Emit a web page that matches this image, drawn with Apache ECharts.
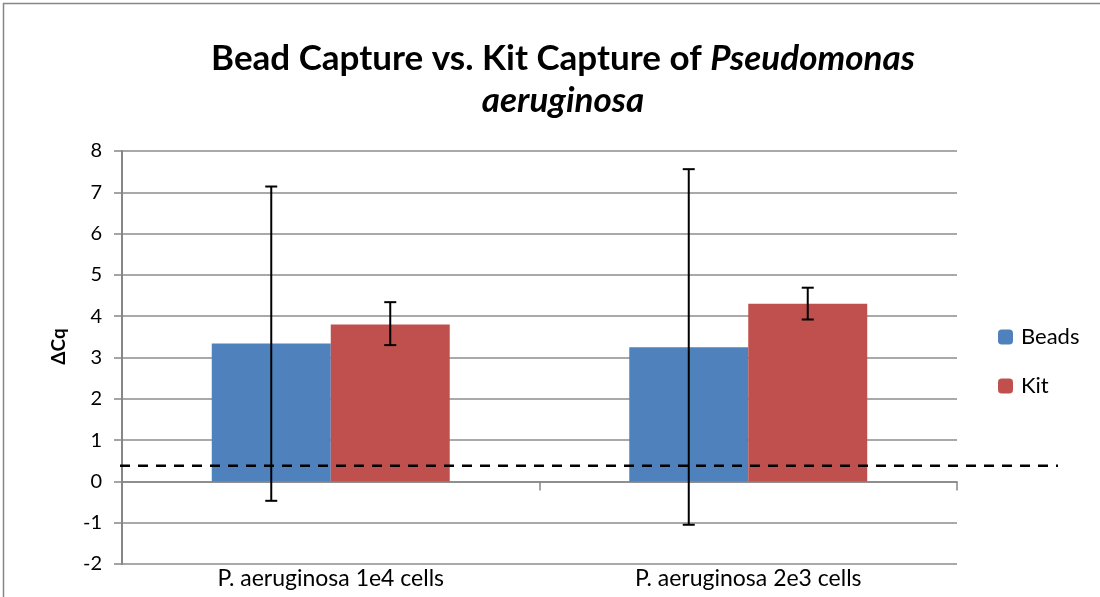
<!doctype html>
<html>
<head>
    <meta http-equiv="Content-Type" content="text/html; charset=utf-8">
    <title>Bead Capture vs. Kit Capture</title>
    <script src="https://cdn.jsdelivr.net/npm/echarts@6/dist/echarts.min.js"></script>
    <style>
        html, body { margin: 0; padding: 0; background: #fff; }
        #chart { width: 1100px; height: 597px; }
    </style>
</head>
<body>
<div id="chart"></div>
<script type="text/javascript">
    var categories = ['P. aeruginosa 1e4 cells', 'P. aeruginosa 2e3 cells'];
    var beads = [3.34, 3.25];
    var kit = [3.80, 4.30];
    // error bar ends (low, high)
    var beadsLow = [-0.47, -1.05];
    var beadsHigh = [7.14, 7.56];
    var kitLow = [3.30, 3.92];
    var kitHigh = [4.34, 4.69];
    var threshold = 0.38;
    var yTicks = { min: -2, max: 8, interval: 1 };

    var FONT = 'Lato';
    var BAR_FRAC = 0.285;

    function errorSeries(name, low, high, side) {
        var data = [];
        for (var i = 0; i < categories.length; i++) {
            data.push([i, low[i], high[i]]);
        }
        return {
            name: name + ' err',
            type: 'custom',
            data: data,
            z: 5,
            silent: true,
            encode: { x: 0, y: [1, 2] },
            renderItem: function (params, api) {
                var band = api.size([1, 0])[0];
                var lo = api.coord([api.value(0), api.value(1)]);
                var hi = api.coord([api.value(0), api.value(2)]);
                var x = lo[0] + side * band * BAR_FRAC / 2;
                var cap = 6;
                var st = { stroke: '#000', lineWidth: 2 };
                return {
                    type: 'group',
                    children: [
                        { type: 'line', shape: { x1: x, y1: lo[1], x2: x, y2: hi[1] }, style: st },
                        { type: 'line', shape: { x1: x - cap, y1: lo[1], x2: x + cap, y2: lo[1] }, style: st },
                        { type: 'line', shape: { x1: x - cap, y1: hi[1], x2: x + cap, y2: hi[1] }, style: st }
                    ]
                };
            }
        };
    }

    var myChart = echarts.init(document.getElementById('chart'));
    var option = {
        animation: false,
        textStyle: { fontFamily: FONT },
        title: {
            text: '{b|Bead Capture vs. Kit Capture of }{i|Pseudomonas}\n{i|aeruginosa}',
            left: 558,
            top: 33,
            textAlign: 'center',
            textStyle: {
                rich: {
                    b: { fontFamily: FONT, fontWeight: 'bold', fontSize: 35, color: '#000', lineHeight: 42 },
                    i: { fontFamily: FONT, fontWeight: 'bold', fontStyle: 'italic', fontSize: 35, color: '#000', lineHeight: 42 }
                }
            }
        },
        legend: {
            orient: 'vertical',
            left: 998,
            top: 326,
            padding: 0,
            itemWidth: 15,
            itemHeight: 15,
            itemGap: 27,
            data: ['Beads', 'Kit'],
            textStyle: { fontFamily: FONT, fontSize: 22, lineHeight: 22, color: '#000', padding: [0, 0, 0, 3] }
        },
        grid: { left: 122, right: 143, top: 151, bottom: 33, containLabel: false },
        xAxis: [
            {
                type: 'category',
                data: categories,
                position: 'bottom',
                axisLine: { onZero: true, lineStyle: { color: '#868686', width: 1.5 } },
                axisTick: { show: true, length: 9, interval: 0, lineStyle: { color: '#868686', width: 1.5 } },
                axisLabel: { show: false }
            },
            {
                type: 'category',
                data: categories,
                position: 'bottom',
                axisLine: { show: false, onZero: false },
                axisTick: { show: false },
                axisLabel: { show: true, interval: 0, margin: 3, fontFamily: FONT, fontSize: 23, color: '#000' }
            }
        ],
        yAxis: {
            type: 'value',
            min: yTicks.min,
            max: yTicks.max,
            interval: yTicks.interval,
            name: 'ΔCq',
            nameLocation: 'middle',
            nameGap: 54,
            nameTextStyle: { fontFamily: FONT, fontWeight: 'bold', fontSize: 19, color: '#000', padding: [0, 0, 0, 22] },
            axisLine: { show: true, lineStyle: { color: '#868686', width: 2 } },
            axisTick: { show: true, length: 8, lineStyle: { color: '#868686', width: 1.5 } },
            axisLabel: { margin: 20, fontFamily: FONT, fontSize: 20, color: '#000' },
            splitLine: { lineStyle: { color: '#8c8c8c', width: 1.5 } }
        },
        series: [
            {
                name: 'Beads',
                type: 'bar',
                data: beads,
                barWidth: (BAR_FRAC * 100) + '%',
                barGap: '0%',
                itemStyle: { color: '#4F81BD' }
            },
            {
                name: 'Kit',
                type: 'bar',
                data: kit,
                barWidth: (BAR_FRAC * 100) + '%',
                barGap: '0%',
                itemStyle: { color: '#C0504D' }
            },
            errorSeries('Beads', beadsLow, beadsHigh, -1),
            errorSeries('Kit', kitLow, kitHigh, 1)
        ]
    };
    myChart.setOption(option);

    // threshold dashed line, runs past the plot area into the legend column
    var ty = myChart.convertToPixel({ yAxisIndex: 0 }, threshold);
    myChart.setOption({
        graphic: [
            {
                type: 'rect',
                shape: { x: 3.5, y: 3.5, width: 1200, height: 800 },
                style: { fill: null, stroke: '#868686', lineWidth: 1.5 },
                silent: true,
                z: 0
            },
            {
                type: 'line',
                shape: { x1: 120, y1: ty, x2: 1058, y2: ty },
                style: { stroke: '#000', lineWidth: 2.5, lineDash: [10, 8] },
                silent: true,
                z: 10
            }
        ]
    });
</script>
</body>
</html>
